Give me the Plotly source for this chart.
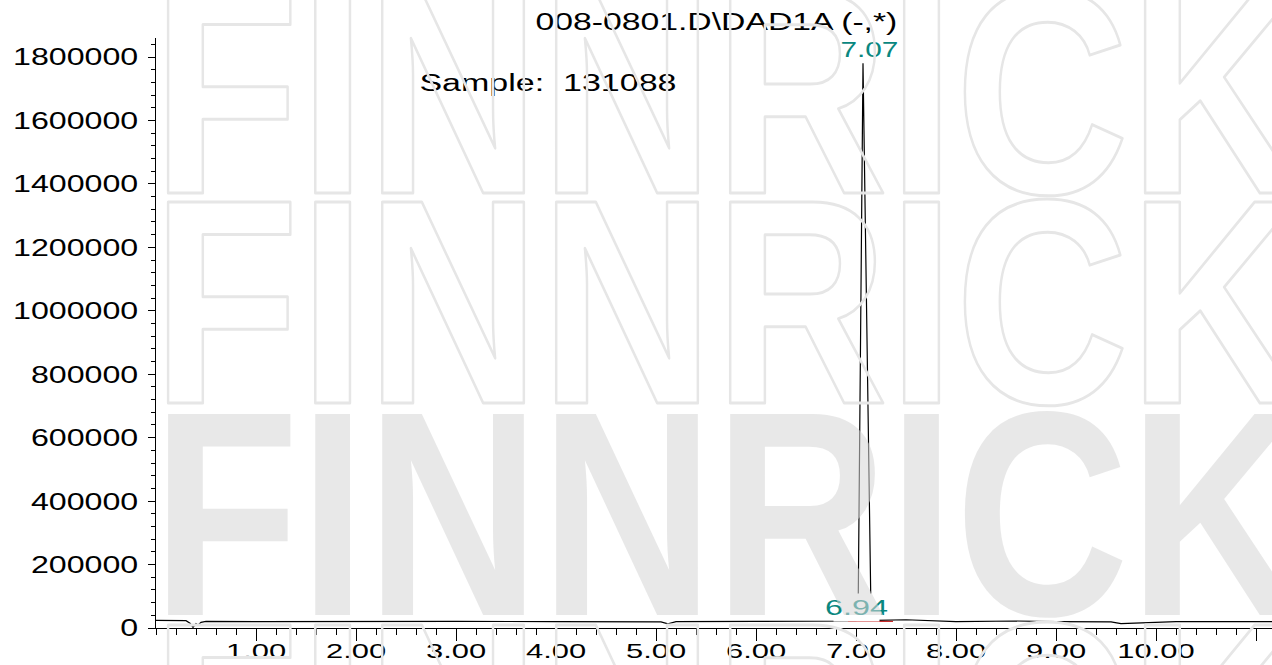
import plotly.graph_objects as go

# ---- data ----
time_min = [0.0, 0.2, 0.3, 0.34, 0.37, 0.40, 0.42, 0.45, 0.5, 1.0, 2.0, 3.0, 4.0, 4.5,
            5.05, 5.12, 5.2, 6.0, 6.9, 7.0, 7.023, 7.07, 7.147, 7.17, 7.2, 7.5, 8.0,
            8.6, 9.0, 9.55, 9.65, 9.8, 10.2, 11.16]
signal = [24000, 24000, 23000, 15000, 2000, 14000, 9000, 18000, 21000, 20000, 21000,
          21000, 20000, 19000, 19000, 13000, 20000, 21000, 21000, 22000, 110000,
          1780000, 110000, 30000, 24000, 26000, 20000, 22000, 20000, 19000, 14000,
          16000, 20000, 20000]
base_t = [6.92, 7.37]
base_v = [21000, 21000]

peak_times = [7.07, 6.94]
peak_labels = ["7.07", "6.94"]
peak_label_y = [1780000, 21000]

x_tickvals = [1, 2, 3, 4, 5, 6, 7, 8, 9, 10, 11]
x_ticktext = ["1.00", "2.00", "3.00", "4.00", "5.00", "6.00", "7.00", "8.00", "9.00", "10.00", ""]
y_tickvals = [0, 200000, 400000, 600000, 800000, 1000000, 1200000, 1400000, 1600000, 1800000]
y_ticktext = [str(v) for v in y_tickvals]

title_text = "008-0801.D\\DAD1A (-,*)"
sample_text = "Sample:\u00a0 131088"
watermark = "FINNRICK"

FONT = "Liberation Sans, Arial, sans-serif"
TEAL = "#0a877f"

fig = go.Figure()
fig.add_trace(go.Scatter(x=time_min, y=signal, mode="lines",
                         line=dict(color="black", width=1.2), showlegend=False,
                         hoverinfo="skip"))
fig.add_trace(go.Scatter(x=base_t, y=base_v, mode="lines",
                         line=dict(color="#c00000", width=1), showlegend=False,
                         hoverinfo="skip"))

annotations = []
# 0: 6.94 label with white background (hides the peak foot)
annotations.append(dict(x=peak_times[1], y=peak_label_y[1], xref="x", yref="y",
                        text=peak_labels[1], showarrow=False, xshift=6, yshift=14,
                        xanchor="center", yanchor="middle",
                        bgcolor="white", font=dict(family=FONT, size=22, color=TEAL)))
# 1: 7.07 label
annotations.append(dict(x=peak_times[0], y=peak_label_y[0], xref="x", yref="y",
                        text=peak_labels[0], showarrow=False, xshift=6, yshift=14,
                        xanchor="center", yanchor="middle",
                        font=dict(family=FONT, size=22, color=TEAL)))
# 2: title
annotations.append(dict(x=0.5018, y=1.027, xref="paper", yref="paper", text=title_text,
                        xanchor="center", yanchor="middle",
                        showarrow=False, font=dict(family=FONT, size=23, color="black")))
# 3: sample
annotations.append(dict(x=0.3517, y=0.9229, xref="paper", yref="paper", text=sample_text,
                        xanchor="center", yanchor="middle",
                        showarrow=False, font=dict(family=FONT, size=23, color="black")))
# 4..7: watermark rows
row_y = [0.9093, 0.5517, 0.194, -0.1636]
for ry in row_y:
    annotations.append(dict(x=0.5122, y=ry, xref="paper", yref="paper", text=watermark,
                            xanchor="center", yanchor="middle", showarrow=False,
                            font=dict(family="Liberation Sans, Arial, sans-serif",
                                      weight="bold", size=292,
                                      color="rgba(214,214,214,0.56)")))

fig.update_layout(
    width=1272, height=665,
    margin=dict(l=156, r=0, t=38, b=37, pad=0, autoexpand=False),
    paper_bgcolor="white", plot_bgcolor="white",
    annotations=annotations,
    xaxis=dict(range=[0, 11.16], showgrid=False, zeroline=False, showline=True,
               automargin=False,
               linecolor="black", linewidth=1, ticks="outside", ticklen=12,
               tickcolor="black", tickwidth=1, tickvals=x_tickvals, ticktext=x_ticktext,
               ticklabelstandoff=-8,
               tickfont=dict(family=FONT, size=21, color="black"),
               minor=dict(dtick=0.2, tick0=0, ticks="outside", ticklen=6,
                          tickcolor="black", tickwidth=1, showgrid=False)),
    yaxis=dict(range=[0, 1860000], showgrid=False, zeroline=False, showline=True,
               automargin=False,
               linecolor="black", linewidth=1, ticks="outside", ticklen=7,
               tickcolor="black", tickwidth=1, tickvals=y_tickvals, ticktext=y_ticktext,
               ticklabelstandoff=5,
               tickfont=dict(family=FONT, size=24, color="black"),
               minor=dict(dtick=40000, tick0=0, ticks="outside", ticklen=4,
                          tickcolor="black", tickwidth=1, showgrid=False)),
)

# The reference text is horizontally stretched; the watermark rows are outlined.
post = """
document.body.style.margin = '0';
document.body.style.overflow = 'hidden';
var gd = document.getElementById('{plot_id}');
function stretch(t, k){
  t.removeAttribute('textLength');
  var w = t.getComputedTextLength();
  if (!w) return;
  t.setAttribute('lengthAdjust', 'spacingAndGlyphs');
  t.setAttribute('textLength', (w * k).toFixed(1));
}
function setLen(t, L){
  t.setAttribute('lengthAdjust', 'spacingAndGlyphs');
  t.setAttribute('textLength', L);
}
function fixText(){
  gd.querySelectorAll('g.ytick text').forEach(function(t){ stretch(t, 1.34); });
  gd.querySelectorAll('g.xtick text').forEach(function(t){ stretch(t, 1.47); });
  var L = {'0':63, '1':58, '2':362, '3':257, '4':1151, '5':1151, '6':1151, '7':1151};
  Object.keys(L).forEach(function(i){
    var t = gd.querySelector('g.annotation[data-index="' + i + '"] text.annotation-text');
    if (!t) return;
    setLen(t, L[i]);
    if (i === '4' || i === '5' || i === '7') {
      t.style.fill = 'none';
      t.style.stroke = 'rgb(230,230,230)';
      t.style.strokeWidth = '3px';
      t.style.strokeLinejoin = 'round';
    }
  });
}
fixText();
gd.on('plotly_afterplot', fixText);
"""

fig.write_html("out.html", post_script=post, config={"displayModeBar": False})
